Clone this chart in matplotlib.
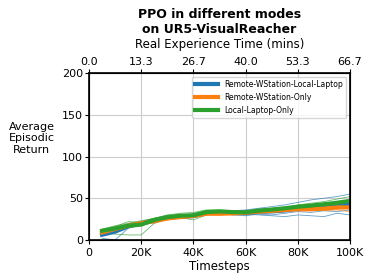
import numpy as np
import matplotlib
matplotlib.use("Agg")
import matplotlib.pyplot as plt

# timesteps (5K .. 100K)
steps = [5000 * (i + 1) for i in range(20)]
modes = ["Remote-WStation-Local-Laptop", "Remote-WStation-Only", "Local-Laptop-Only"]
colors = ["tab:blue", "tab:orange", "tab:green"]

# individual runs per mode (approximate)
runs_remote_local = [
    [5, 12, 16, 19, 22, 26, 27, 28, 32, 33, 31, 30, 33, 34, 36, 38, 40, 42, 45, 48],
    [2, 0, 14, 20, 25, 28, 29, 27, 30, 34, 35, 36, 38, 40, 42, 45, 48, 50, 52, 55],
    [8, 13, 17, 20, 24, 29, 30, 31, 35, 33, 30, 29, 31, 30, 32, 34, 33, 35, 34, 36],
    [10, 15, 19, 22, 25, 27, 26, 28, 33, 34, 35, 35, 37, 38, 39, 40, 41, 42, 44, 46],
    [6, 10, 15, 18, 21, 25, 27, 29, 32, 32, 33, 31, 30, 29, 28, 30, 29, 28, 32, 30],
]
runs_remote_only = [
    [8, 13, 17, 21, 22, 24, 27, 29, 31, 31, 32, 34, 35, 36, 37, 38, 38, 39, 40, 41],
    [10, 14, 19, 22, 25, 27, 28, 30, 33, 32, 30, 31, 33, 34, 36, 35, 37, 38, 40, 39],
    [9, 12, 16, 19, 20, 24, 26, 27, 30, 31, 32, 33, 32, 34, 35, 36, 37, 35, 36, 34],
    [11, 15, 18, 20, 24, 28, 29, 30, 32, 33, 34, 33, 36, 37, 38, 39, 37, 40, 42, 43],
    [7, 12, 15, 18, 23, 26, 27, 28, 31, 30, 31, 32, 34, 33, 34, 36, 35, 36, 37, 38],
]
runs_local_only = [
    [12, 16, 22, 21, 24, 27, 29, 30, 34, 35, 33, 34, 36, 37, 39, 42, 44, 46, 49, 52],
    [9, 7, 6, 6, 20, 25, 27, 24, 30, 33, 32, 33, 35, 36, 38, 40, 41, 43, 45, 47],
    [13, 17, 20, 23, 26, 30, 32, 33, 36, 36, 35, 34, 36, 37, 38, 39, 42, 42, 44, 45],
    [10, 14, 19, 22, 26, 28, 29, 31, 35, 34, 33, 32, 34, 36, 38, 40, 40, 42, 43, 46],
    [11, 15, 18, 20, 24, 27, 28, 30, 32, 33, 34, 33, 35, 36, 37, 38, 39, 41, 42, 44],
]
all_runs = [runs_remote_local, runs_remote_only, runs_local_only]

xticks = [0, 20000, 40000, 60000, 80000, 100000]
xticklabels = ["0", "20K", "40K", "60K", "80K", "100K"]
secs_per_step = 0.04

fig = plt.figure(figsize=(3.74, 2.8), dpi=100)
ax = fig.add_axes([0.238, 0.143, 0.698, 0.596])

for runs, c in zip(all_runs, colors):
    for r in runs:
        ax.plot(steps, r, color=c, lw=0.6, alpha=0.7)
for runs, c, m in zip(all_runs, colors, modes):
    ax.plot(steps, np.mean(runs, axis=0), color=c, lw=3, label=m)

ax.set_xlim(0, 100000)
ax.set_ylim(0, 200)
ax.set_xticks(xticks)
ax.set_xticklabels(xticklabels)
ax.set_yticks([0, 50, 100, 150, 200])
ax.grid(True, color="#cccccc", lw=0.8)
for s in ax.spines.values():
    s.set_linewidth(1.2)
ax.tick_params(direction="out", length=3, labelsize=8, pad=1.5)
ax.tick_params(axis="x", pad=3)
ax.set_xlabel("Timesteps", fontsize=8.5, labelpad=1)
ax.set_ylabel("Average\nEpisodic\nReturn", fontsize=8, rotation=0, va="center")
ax.yaxis.set_label_coords(-0.22, 0.61)

top = ax.twiny()
top.set_xlim(ax.get_xlim())
top.set_xticks(xticks)
top.set_xticklabels(["%.1f" % (t * secs_per_step / 60) for t in xticks])
top.tick_params(direction="out", length=3, labelsize=8, pad=1.5)
top.set_xlabel("Real Experience Time (mins)", fontsize=8.5, labelpad=6)
top.set_title("PPO in different modes\non UR5-VisualReacher", fontsize=9, fontweight="bold", pad=4)

ax.legend(loc="upper right", fontsize=5.5, handlelength=3, framealpha=0.8)

fig.savefig("out.png", dpi=100)
